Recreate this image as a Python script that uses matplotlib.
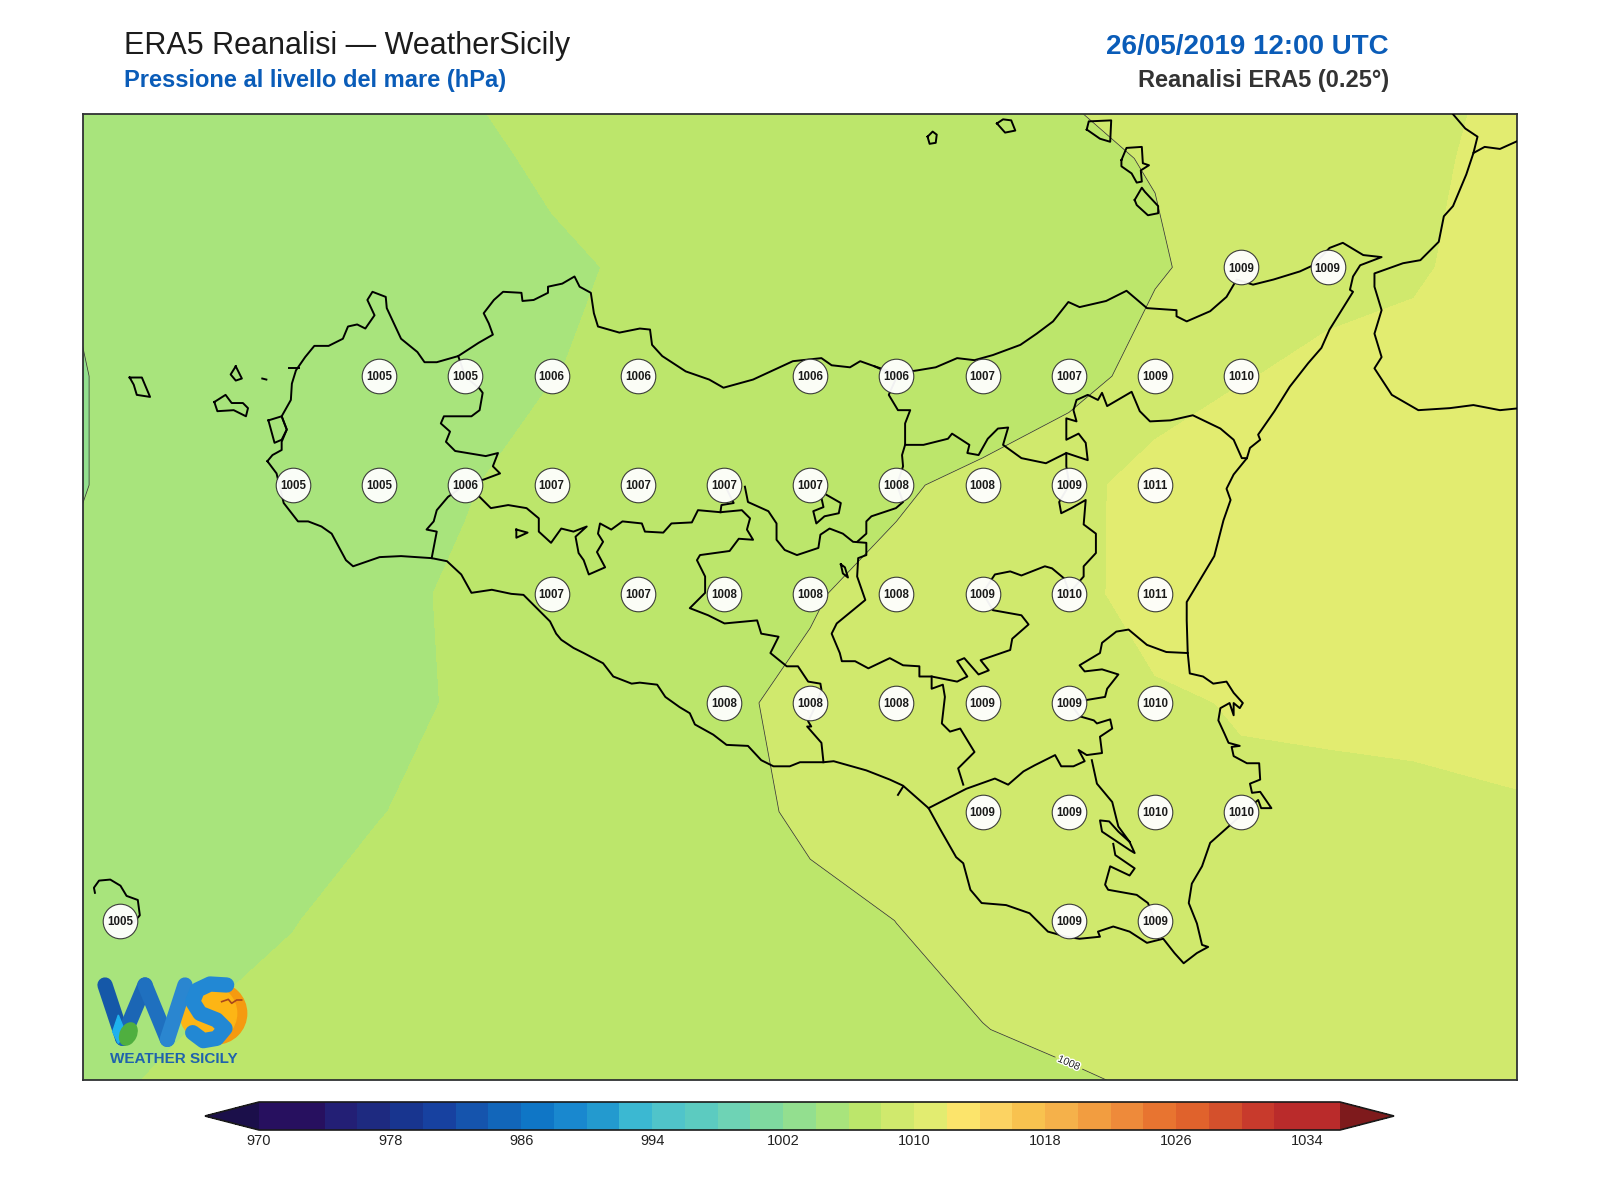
import numpy as np
import matplotlib
matplotlib.use("Agg")
import matplotlib.pyplot as plt
import matplotlib.patheffects as pe
from matplotlib.colors import ListedColormap, BoundaryNorm
from matplotlib.patches import Circle, Ellipse, Polygon

plt.rcParams['font.family'] = ['Liberation Sans', 'DejaVu Sans']

# ERA5 grid, 0.25 deg
lons = [11.75, 12.0, 12.25, 12.5, 12.75, 13.0, 13.25, 13.5, 13.75, 14.0, 14.25, 14.5,
        14.75, 15.0, 15.25, 15.5, 15.75, 16.0, 16.25]
lats = [38.75, 38.5, 38.25, 38.0, 37.75, 37.5, 37.25, 37.0, 36.75, 36.5, 36.25]

# sea level pressure (hPa), one list per latitude
p_3875 = [1004.4, 1004.8, 1005.2, 1005.6, 1005.9, 1006.25, 1006.7, 1007.0, 1007.2, 1007.5, 1007.7, 1007.95, 1008.2, 1008.6, 1009.1, 1009.6, 1009.9, 1010.02, 1010.5]
p_3850 = [1004.1, 1004.8, 1005.0, 1005.2, 1005.3, 1005.4, 1006.4, 1006.6, 1006.9, 1007.1, 1007.3, 1007.5, 1007.78, 1008.07, 1008.6, 1009.2, 1009.7, 1010.31, 1010.5]
p_3825 = [1003.6, 1004.7, 1005.0, 1005.2, 1005.3, 1005.4, 1005.6, 1006.3, 1006.6, 1006.8, 1007.0, 1007.2, 1007.4, 1007.85, 1008.6, 1009.4, 1009.9, 1010.3, 1010.5]
p_3800 = [1003.3, 1004.4, 1004.7, 1005.0, 1005.2, 1005.45, 1005.95, 1006.45, 1006.45, 1006.4, 1006.4, 1006.8, 1007.4, 1008.6, 1009.9, 1010.43, 1010.25, 1010.8, 1011.0]
p_3775 = [1003.3, 1004.4, 1004.8, 1005.0, 1005.3, 1005.85, 1006.8, 1007.0, 1007.2, 1007.3, 1007.8, 1008.4, 1009.2, 1011.0, 1011.2, 1011.3, 1011.3, 1011.3, 1011.3]
p_3750 = [1003.8, 1004.8, 1005.0, 1005.2, 1005.5, 1006.3, 1006.8, 1007.0, 1007.55, 1007.9, 1008.4, 1008.9, 1009.6, 1010.53, 1011.0, 1011.1, 1011.1, 1011.1, 1011.0]
p_3725 = [1004.2, 1005.0, 1005.2, 1005.4, 1005.65, 1006.15, 1006.9, 1007.3, 1007.85, 1008.22, 1008.4, 1008.8, 1009.3, 1009.82, 1010.08, 1010.3, 1010.4, 1010.3, 1010.2]
p_3700 = [1004.6, 1005.2, 1005.4, 1005.7, 1005.95, 1006.45, 1006.8, 1007.2, 1007.7, 1008.17, 1008.4, 1008.9, 1009.2, 1009.6, 1009.81, 1009.59, 1009.65, 1009.9, 1009.99]
p_3675 = [1004.8, 1005.0, 1005.5, 1005.95, 1006.5, 1006.8, 1007.1, 1007.3, 1007.55, 1007.78, 1008.005, 1008.3, 1008.6, 1008.9, 1009.1, 1009.2, 1009.3, 1009.4, 1009.5]
p_3650 = [1005.2, 1005.6, 1006.1, 1006.4, 1006.8, 1007.0, 1007.3, 1007.5, 1007.7, 1007.8, 1007.8, 1007.98, 1008.2, 1008.4, 1008.6, 1008.8, 1009.0, 1009.1, 1009.2]
p_3625 = [1005.8, 1006.2, 1006.5, 1006.7, 1006.9, 1007.1, 1007.2, 1007.3, 1007.4, 1007.45, 1007.5, 1007.5, 1007.55, 1007.8, 1007.9, 1008.0, 1008.1, 1008.2, 1008.3]

# where the round value labels sit
label_lons = {
    38.25: [15.25, 15.5],
    38.0: [12.75, 13.0, 13.25, 13.5, 14.0, 14.25, 14.5, 14.75, 15.0, 15.25],
    37.75: [12.5, 12.75, 13.0, 13.25, 13.5, 13.75, 14.0, 14.25, 14.5, 14.75, 15.0],
    37.5: [13.25, 13.5, 13.75, 14.0, 14.25, 14.5, 14.75, 15.0],
    37.25: [13.75, 14.0, 14.25, 14.5, 14.75, 15.0],
    37.0: [14.5, 14.75, 15.0, 15.25],
    36.75: [12.0, 14.75, 15.0],
}

levels = list(range(970, 1038, 2))
line_levels = [1000, 1004]
labelled_level = [1008]
bar_ticks = list(range(970, 1036, 8))
band_colors = ['#27105f', '#27105f', '#231f75', '#1e2a80', '#18358f', '#1741a0', '#1554ad', '#1266ba',
               '#0f76c6', '#1988cf', '#239acf', '#3bb8d2', '#50c4ca', '#5ccbc0', '#6ed3b5', '#7fd9a0',
               '#93df8f', '#a8e47c', '#bce66b', '#d0e96d', '#e2ec70', '#fce46b', '#fcd362', '#f8c24f',
               '#f5b14a', '#f29d40', '#ee8a3a', '#e87430', '#e0622c', '#d4502c', '#c83a2c', '#ba2b2b', '#ba2b2b']

sicily = [(262,452),(267,446),(276,441),(276,433),(281,421),(276,408),(285,392),(286,376),(290,363),(299,350),
          (308,339),(322,339),(336,332),(341,320),(350,318),(358,322),(367,309),(360,294),(365,286),(378,291),
          (379,302),(386,317),(393,332),(409,345),(416,355),(428,355),(449,349),(469,336),(483,328),(479,317),
          (474,307),(484,294),(493,286),(511,287),(512,295),(523,294),(537,287),(537,281),(551,278),(563,271),
          (568,281),(579,287),(582,307),(586,320),(607,326),(627,322),(637,323),(639,338),(649,349),(672,364),
          (695,372),(709,380),(738,372),(777,354),(805,351),(815,358),(833,360),(843,354),(857,359),(878,366),
          (899,363),(917,360),(938,351),(955,353),(973,348),(1000,338),(1016,327),(1032,315),(1047,296),(1058,301),
          (1084,295),(1104,285),(1124,302),(1153,304),(1153,310),(1163,315),(1186,305),(1202,291),(1212,274),(1228,279),
          (1248,274),(1274,266),(1287,260),(1303,243),(1316,238),(1336,250),(1354,252),(1333,260),(1326,271),(1323,284),
          (1326,286),(1313,307),(1303,323),(1295,341),(1282,356),(1264,379),(1249,403),(1233,426),(1235,431),(1225,439),
          (1222,449),(1209,465),(1202,479),(1206,490),(1199,510),(1190,545),(1175,570),(1163,590),(1163,608),(1164,640),
          (1166,660),(1179,663),(1189,670),(1202,668),(1209,679),(1218,689),(1215,694),(1209,689),(1209,701),(1205,689),
          (1196,694),(1194,706),(1200,719),(1204,728),(1215,731),(1207,732),(1209,741),(1222,748),(1234,748),(1235,764),
          (1225,768),(1227,777),(1235,776),(1246,792),(1236,792),(1233,784),(1226,790),(1204,810),(1186,826),(1178,849),
          (1168,866),(1165,885),(1173,905),(1178,926),(1184,928),(1173,934),(1160,944),(1151,934),(1140,920),(1124,924),
          (1107,913),(1091,908),(1076,913),(1078,918),(1058,920),(1045,918),(1027,913),(1009,895),(986,887),(962,885),
          (951,872),(944,846),(937,840),(921,812),(910,792),(885,770),(872,764),(849,755),(817,746),(807,747),
          (784,747),(774,751),(758,751),(746,745),(733,731),(712,730),(699,720),(681,710),(676,699),(666,693),
          (652,683),(644,671),(627,669),(619,670),(601,663),(591,650),(572,640),(562,635),(550,627),(545,621),
          (539,609),(526,596),(513,583),(501,582),(482,578),(462,581),(452,563),(438,550),(423,547),(393,545),
          (372,546),(346,555),(339,549),(325,523),(315,516),(302,511),(292,511),(278,493),(271,464),(262,452)]
borders = [
    [(449,349),(456,369),(470,381),(473,385),(470,402),(462,408),(435,408),(432,415),(441,423),(437,433),(446,442),
     (476,447),(488,444),(483,457),(490,464),(474,470),(456,475),(439,487),(428,500),(425,511),(418,519),(428,521),(423,547)],
    [(470,487),(481,498),(498,495),(516,498),(528,508),(528,521),(540,532),(550,518),(562,521),(575,516),(564,526),
     (567,542),(572,549),(577,563),(593,556),(585,541),(591,531),(586,523),(588,513),(599,519),(610,511),(629,513),
     (632,521),(650,522),(658,513),(678,512),(684,500),(706,502),(727,500),(735,508),(732,519),(738,529),(724,528),
     (715,540),(686,544),(683,549),(691,565),(691,581),(676,596),(694,603),(710,611),(742,608),(746,621),(763,624),
     (755,640),(771,653),(782,653),(792,668),(804,670),(805,676),(800,690),(792,707),(795,712),(791,712),(805,728),(807,747)],
    [(706,502),(707,495),(719,493),(710,475)],
    [(730,477),(733,492),(753,501),(761,513),(761,529),(769,539),(781,544),(802,537),(804,524),(813,518),(826,523),
     (836,531),(849,532),(849,544),(841,547),(840,565),(848,588),(820,611),(815,621),(823,640),(825,648),(838,648),
     (851,655),(872,645),(885,652),(901,653),(901,663),(913,663),(938,668),(948,663),(938,648),(945,645),(959,661),
     (969,657),(961,647),(990,637),(992,626),(1008,612),(1001,603),(973,598),(963,581),(975,563),(990,560),(1001,564),
     (1024,555),(1031,557),(1043,567),(1048,581),(1062,565),(1062,555),(1074,542),(1074,523),(1062,514),(1064,490),
     (1050,498),(1040,503),(1038,492),(1048,475),(1045,457),(1045,444),(1025,454),(1001,449),(983,436),(988,419),
     (978,420),(968,430),(959,446),(948,444),(950,436),(933,425),(929,430),(905,436),(887,436),(887,415),(892,402),
     (880,402),(871,387),(879,369),(857,359)],
    [(887,436),(884,446),(885,457),(879,475),(885,492),(878,498),(854,506),(849,511),(849,523),(840,531)],
    [(1045,444),(1066,451),(1064,434),(1057,425),(1045,431),(1045,410),(1055,413),(1052,402),(1055,392),(1066,387),
     (1076,392),(1080,385),(1085,398),(1109,384),(1117,403),(1127,413),(1147,412),(1169,407),(1196,420),(1209,431),(1217,449),(1222,449)],
    [(1164,640),(1143,639),(1124,632),(1106,617),(1094,619),(1080,630),(1078,640),(1058,652),(1063,658),(1080,656),
     (1096,661),(1085,675),(1083,683),(1065,686),(1048,688),(1058,702),(1072,706),(1075,709),(1088,705),(1090,714),
     (1078,722),(1080,738),(1065,740),(1057,735),(1063,746),(1052,751),(1040,751),(1034,740),(1014,750),(1003,756),
     (988,769),(975,763),(947,773),(910,792)],
    [(944,769),(939,753),(955,737),(941,714),(931,717),(923,709),(926,683),(924,671),(913,675),(913,663)],
    [(1070,745),(1075,768),(1090,786),(1096,810),(1107,825),(1112,836),(1107,833),(1080,815),(1078,804),(1087,805),
     (1096,815),(1107,825)],
    [(1091,827),(1093,838),(1112,851),(1107,858),(1088,849),(1083,867),(1086,872),(1114,877),(1125,885),(1132,902)],
    [(880,779),(885,771)],
    [(810,485),(824,493),(822,503),(808,506),(800,513),(797,501),(807,497),(805,488)],
    [(506,519),(517,522),(506,527),(506,519)],
    [(263,412),(276,408),(281,421),(276,431),(269,434),(263,412)],
    [(283,361),(293,361)],
]
islands = [
    [(127,370),(139,370),(147,389),(134,387),(131,377),(127,370)],
    [(231,359),(237,371),(231,373),(226,367),(231,359)],
    [(210,394),(221,387),(227,395),(238,395),(243,400),(241,408),(229,402),(213,403),(210,394)],
    [(257,371),(261,372)],
    [(93,875),(92,870),(97,863),(108,862),(118,868),(124,878),(135,882),(137,897),(130,905)],
    [(909,134),(914,129),(918,132),(917,140),(911,141),(909,134)],
    [(977,121),(983,117),(991,118),(995,128),(985,130),(977,121)],
    [(1065,127),(1067,119),(1089,118),(1088,139),(1078,136),(1065,127)],
    [(1099,157),(1104,145),(1119,144),(1120,160),(1126,162),(1118,167),(1119,178),(1114,179),(1109,170),(1099,163),(1099,157)],
    [(1112,196),(1119,184),(1122,188),(1135,202),(1135,209),(1125,211),(1114,201),(1112,196)],
    [(824,553),(828,556),(831,566),(826,562),(824,553)],
]
calabria = [
    [(1424,112),(1436,126),(1448,134),(1444,150),(1437,171),(1424,202),(1415,212),(1410,237),(1392,255),(1375,258),
     (1347,268),(1347,281),(1354,304),(1347,327),(1354,350),(1347,361),(1364,387),(1390,402),(1421,400),(1444,397),
     (1470,402),(1490,400)],
    [(1444,150),(1455,144),(1470,146),(1490,137)],
]


def to_lonlat(points):
    pts = np.array(points, dtype=float)
    return 12 + (pts[:, 0] - 118) / 338, 38.25 - (pts[:, 1] - 262) / 426.8


pressure = np.array([p_3875, p_3850, p_3825, p_3800, p_3775, p_3750, p_3725, p_3700, p_3675, p_3650, p_3625])

fig = plt.figure(figsize=(16, 12), dpi=100)
W, H = 1600, 1200
ax = fig.add_axes([83 / W, 1 - 1080 / H, (1517 - 83) / W, (1080 - 114) / H])
ax.set_xlim(11.8914, 16.0494)
ax.set_ylim(36.384, 38.602)

cmap = ListedColormap(band_colors).with_extremes(under='#1b0f4a', over='#7e1a1c')
norm = BoundaryNorm(levels, cmap.N)
cf = ax.contourf(lons, lats, pressure, levels=levels, cmap=cmap, norm=norm, extend='both')
ax.contour(lons, lats, pressure, levels=line_levels, colors='#33363a', linewidths=0.55)
cs = ax.contour(lons, lats, pressure, levels=labelled_level, colors='#33363a', linewidths=0.55)
lab = ax.clabel(cs, fmt='%d', fontsize=7.5, manual=[(14.765, 36.45)], inline=True, inline_spacing=3)
for t in lab:
    t.set_color('#222222')
    t.set_path_effects([pe.withStroke(linewidth=2, foreground='white')])

for outline in [sicily] + borders + islands + calabria:
    x, y = to_lonlat(outline)
    ax.plot(x, y, color='black', lw=1.4, solid_joinstyle='round', zorder=5)

for lat, row in label_lons.items():
    for lon in row:
        value = pressure[lats.index(lat), lons.index(lon)]
        ax.scatter(lon, lat, s=620, facecolor='white', edgecolor='#333333', linewidth=0.8, alpha=0.95, zorder=6)
        ax.text(lon, lat - 0.003, f"{value:.0f}", ha='center', va='center', fontsize=8.3,
                fontweight='bold', color='#1a1a1a', zorder=7)

ax.set_xlim(11.8914, 16.0494)
ax.set_ylim(36.384, 38.602)
ax.set_xticks([])
ax.set_yticks([])
for s in ax.spines.values():
    s.set_linewidth(1.3)
    s.set_color('#2f3133')

# colorbar, the extends are inside the axes box
cax = fig.add_axes([205 / W, 1 - 1130 / H, (1394 - 205) / W, 28 / H])
cb = fig.colorbar(cf, cax=cax, orientation='horizontal', ticks=bar_ticks, spacing='uniform')
cb.minorticks_off()
cb.ax.tick_params(which='both', length=0, labelsize=10.5, pad=3, labelcolor='#222222')
cb.outline.set_linewidth(1.2)
cb.outline.set_edgecolor('#1a1a1a')

# titles
fig.text(123.5 / W, 1 - 46 / H, "ERA5 Reanalisi — WeatherSicily", fontsize=22, color='#1c1c1c', ha='left', va='center')
fig.text(123.5 / W, 1 - 81 / H, "Pressione al livello del mare (hPa)", fontsize=17, fontweight='bold',
         color='#0a5cb8', ha='left', va='center')
fig.text(1389 / W, 1 - 47 / H, "26/05/2019 12:00 UTC", fontsize=20, fontweight='bold', color='#0a5cb8',
         ha='right', va='center')
fig.text(1389 / W, 1 - 81 / H, "Reanalisi ERA5 (0.25°)", fontsize=17, fontweight='bold', color='#333333',
         ha='right', va='center')

# logo, rough redraw
logo = fig.add_axes([60 / W, 1 - 1090 / H, 220 / W, 140 / H])
logo.set_xlim(0, 660)
logo.set_ylim(420, 0)
logo.axis('off')
logo.patch.set_alpha(0)
logo.add_patch(Circle((468, 190), 92, color='#f59a10', zorder=1))
logo.add_patch(Circle((445, 190), 85, color='#fdb515', zorder=1))
logo.plot([135, 188], [105, 265], color='#1558a8', lw=11, solid_capstyle='round', zorder=2)
logo.plot([188, 255], [265, 105], color='#1b66b5', lw=11, solid_capstyle='round', zorder=2)
logo.plot([255, 322], [105, 268], color='#1f70bf', lw=11, solid_capstyle='round', zorder=2)
logo.plot([322, 375], [268, 105], color='#2a86d0', lw=11, solid_capstyle='round', zorder=2)
logo.plot([500, 450, 412, 398, 420, 470, 495, 470, 430, 398], [105, 102, 120, 155, 190, 210, 235, 265, 272, 248],
          color='#2288d4', lw=11, solid_capstyle='round', solid_joinstyle='round', zorder=3)
logo.add_patch(Polygon([(175, 195), (195, 245), (175, 280), (158, 245)], color='#1eb2ee', zorder=4))
logo.add_patch(Ellipse((205, 252), 48, 70, angle=25, color='#4faf3f', zorder=5))
logo.plot([485, 505, 515, 530, 545], [155, 148, 160, 150, 150], color='#a8461c', lw=1.2, zorder=6)
logo.text(340, 328, "WEATHER SICILY", ha='center', va='center', fontsize=11, fontweight='bold', color='#1f62ad')

fig.savefig("out.png", dpi=100)
